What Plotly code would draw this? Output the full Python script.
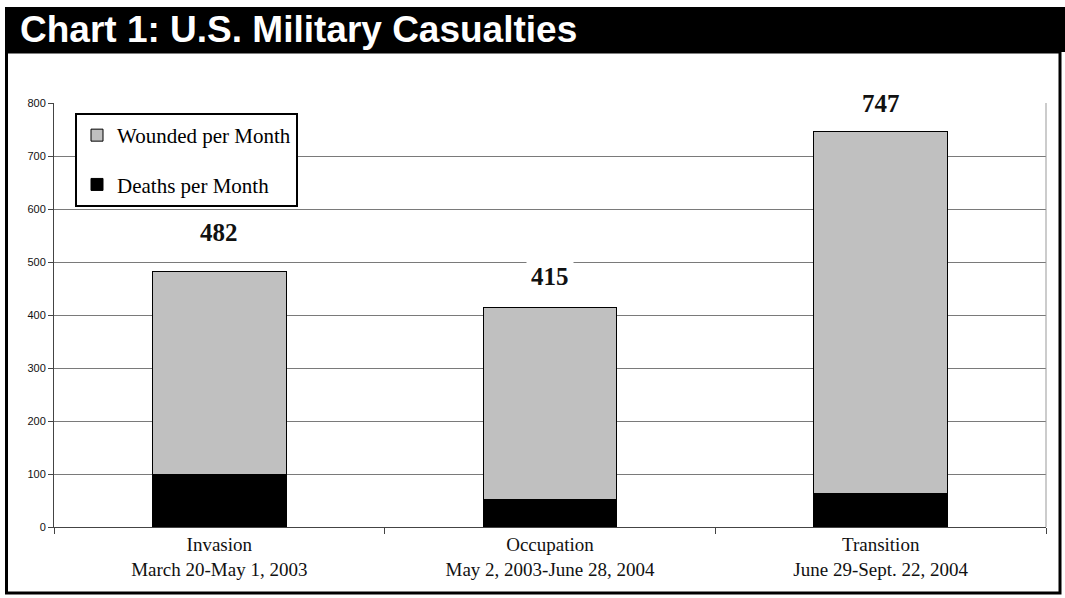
import plotly.graph_objects as go

# ---- data ----
categories = ["Invasion<br>March 20-May 1, 2003",
              "Occupation<br>May 2, 2003-June 28, 2004",
              "Transition<br>June 29-Sept. 22, 2004"]
deaths_per_month = [100, 51, 64]
wounded_per_month = [382, 364, 683]
total_labels = [482, 415, 747]
y_ticks = [0, 100, 200, 300, 400, 500, 600, 700, 800]

# label placement (data units)
label_y = [556, 472, 800]

W, H = 1065, 598
L, R, T, B = 54, 19, 103, 71
PW, PH = W - L - R, H - T - B


def px(x):
    return (x - L) / PW


def py(y):
    return (H - B - y) / PH


fig = go.Figure()
fig.add_trace(go.Bar(
    x=categories, y=deaths_per_month, name="Deaths per Month",
    marker=dict(color="#000000", line=dict(color="#000000", width=1)),
    legendgroup="d", legendrank=2, hoverinfo="skip"))
fig.add_trace(go.Bar(
    x=categories, y=wounded_per_month, name="Wounded per Month",
    marker=dict(color="#C0C0C0", line=dict(color="#000000", width=1)),
    legendgroup="w", legendrank=1, hoverinfo="skip"))

for c, v, ly in zip(categories, total_labels, label_y):
    fig.add_annotation(x=c, y=ly, xref="x", yref="y", text=f"<b>{v}</b>",
                       showarrow=False, bgcolor="white", borderpad=4,
                       font=dict(family="Liberation Serif", size=25, color="#111"))

shapes = [
    # title bar
    dict(type="rect", xref="paper", yref="paper", x0=px(5), x1=px(1066),
         y0=py(52), y1=py(7), fillcolor="black", line=dict(width=0), layer="below"),
    # outer frame
    dict(type="rect", xref="paper", yref="paper", x0=px(6.5), x1=px(1060),
         y0=py(593), y1=py(52), fillcolor="rgba(0,0,0,0)",
         line=dict(color="black", width=3), layer="above"),
    # right plot edge
    dict(type="line", xref="paper", yref="paper", x0=1, x1=1, y0=0, y1=1,
         line=dict(color="#999", width=1)),
]

fig.add_annotation(xref="paper", yref="paper", x=px(18), y=py(29),
                   xanchor="left", yanchor="middle", showarrow=False,
                   text="<b>Chart 1: U.S. Military Casualties</b>",
                   font=dict(family="Liberation Sans", size=37, color="white"))

fig.update_layout(
    width=W, height=H,
    margin=dict(l=L, r=R, t=T, b=B),
    paper_bgcolor="white", plot_bgcolor="white",
    barmode="stack", bargap=0.595,
    shapes=shapes,
    showlegend=True,
    legend=dict(x=px(75), y=py(113), xanchor="left", yanchor="top",
                bgcolor="white", bordercolor="black", borderwidth=2,
                traceorder="grouped", tracegroupgap=19,
                font=dict(family="Liberation Serif", size=21, color="black"),
                itemclick=False, itemdoubleclick=False),
    xaxis=dict(showline=True, linecolor="#444", linewidth=1,
               ticks="outside", tickson="boundaries", ticklen=6, tickcolor="#444",
               tickfont=dict(family="Liberation Serif", size=19, color="#111"),
               showgrid=False, fixedrange=True),
    yaxis=dict(range=[0, 800], tickvals=y_ticks, showline=True, linecolor="#444",
               linewidth=1, ticks="outside", ticklen=5, tickcolor="#444",
               tickfont=dict(family="Liberation Sans", size=11, color="#111"),
               showgrid=True, gridcolor="#7a7a7a", gridwidth=1,
               zeroline=False, fixedrange=True),
)

fig.write_html("out.html", config={"displayModeBar": False},
               post_script="document.body.style.margin='0';document.body.style.padding='0';")
